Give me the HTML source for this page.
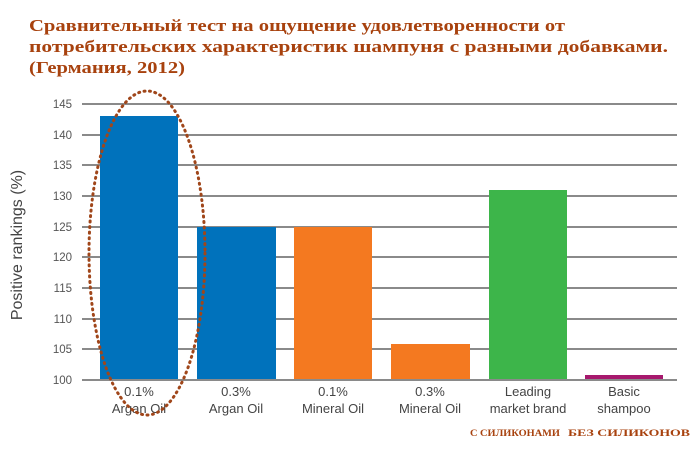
<!DOCTYPE html>
<html><head><meta charset="utf-8"><style>
body{margin:0;background:#fff;width:694px;height:447px;overflow:hidden}
</style></head><body>
<svg width="694" height="447" xmlns="http://www.w3.org/2000/svg">
<g font-family="Liberation Serif, Noto Serif CJK SC, serif" font-weight="bold" font-size="17" fill="#a8420e">
<text x="29" y="31" textLength="536" lengthAdjust="spacingAndGlyphs">Сравнительный тест на ощущение удовлетворенности от</text>
<text x="29" y="52" textLength="639" lengthAdjust="spacingAndGlyphs">потребительских характеристик шампуня с разными добавками.</text>
<text x="29" y="73" textLength="156" lengthAdjust="spacingAndGlyphs">(Германия, 2012)</text>
</g>
<g stroke="#8a8a8a" stroke-width="2">
<line x1="82" x2="677" y1="104" y2="104"/><line x1="82" x2="677" y1="135" y2="135"/>
<line x1="82" x2="677" y1="165" y2="165"/><line x1="82" x2="677" y1="196" y2="196"/>
<line x1="82" x2="677" y1="227" y2="227"/><line x1="82" x2="677" y1="257" y2="257"/>
<line x1="82" x2="677" y1="288" y2="288"/><line x1="82" x2="677" y1="319" y2="319"/>
<line x1="82" x2="677" y1="349" y2="349"/>
</g>
<g font-family="Liberation Sans, sans-serif" font-size="11.5" fill="#555" text-anchor="end">
<text x="72" y="108">145</text><text x="72" y="139">140</text><text x="72" y="169">135</text>
<text x="72" y="200">130</text><text x="72" y="231">125</text><text x="72" y="261">120</text>
<text x="72" y="292">115</text><text x="72" y="323">110</text><text x="72" y="353">105</text>
<text x="72" y="384">100</text>
</g>
<text transform="translate(22,245) rotate(-90)" text-anchor="middle" font-family="Liberation Sans, sans-serif" font-size="16" fill="#444">Positive rankings (%)</text>
<rect x="100" y="116" width="78" height="264" fill="#0072bc"/>
<rect x="197" y="227" width="79" height="153" fill="#0072bc"/>
<rect x="294" y="227" width="78" height="153" fill="#f47920"/>
<rect x="391" y="344" width="79" height="36" fill="#f47920"/>
<rect x="489" y="190" width="78" height="190" fill="#3db54a"/>
<rect x="585" y="375" width="78" height="5" fill="#a6186d"/>
<line x1="82" x2="677" y1="380" y2="380" stroke="#8a8a8a" stroke-width="2"/>
<g font-family="Liberation Sans, sans-serif" font-size="13" fill="#444" text-anchor="middle">
<text x="139" y="396">0.1%</text><text x="139" y="413">Argan Oil</text>
<text x="236" y="396">0.3%</text><text x="236" y="413">Argan Oil</text>
<text x="333" y="396">0.1%</text><text x="333" y="413">Mineral Oil</text>
<text x="430" y="396">0.3%</text><text x="430" y="413">Mineral Oil</text>
<text x="528" y="396">Leading</text><text x="528" y="413">market brand</text>
<text x="624" y="396">Basic</text><text x="624" y="413">shampoo</text>
</g>
<ellipse cx="147" cy="253" rx="58" ry="162" fill="none" stroke="#a0461a" stroke-width="3" stroke-dasharray="1 4.5" stroke-linecap="round"/>
<g font-family="Liberation Serif, serif" font-weight="bold" font-size="9" fill="#a8420e">
<text x="470" y="436" textLength="90" lengthAdjust="spacingAndGlyphs">С СИЛИКОНАМИ</text>
<text x="568" y="436" textLength="122" lengthAdjust="spacingAndGlyphs">БЕЗ СИЛИКОНОВ</text>
</g>
</svg>
</body></html>
